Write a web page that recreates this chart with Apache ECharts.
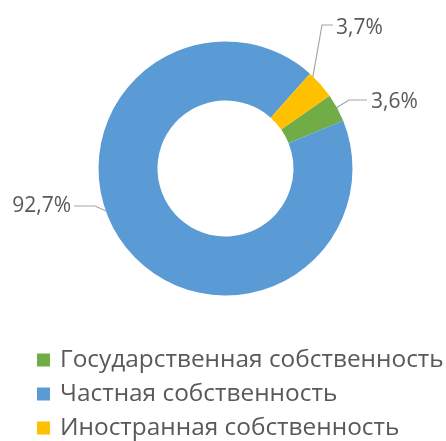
<!DOCTYPE html>
<html>
<head>
<meta charset="utf-8">
<script src="https://cdn.jsdelivr.net/npm/echarts@6/dist/echarts.min.js"></script>
<style>
html,body{margin:0;padding:0;background:#fff;}
#chart{width:446px;height:441px;}
</style>
</head>
<body>
<div id="chart"></div>
<script>
const categories = ['Государственная собственность', 'Частная собственность', 'Иностранная собственность'];
const values = [3.6, 92.7, 3.7];
const valueLabels = ['3,6%', '92,7%', '3,7%'];
const colors = ['#70AD47', '#5B9BD5', '#FFC000'];

const pieCenter = [225.5, 168.5];
// manual label placement (as in the original, labels were dragged)
const labelPlace = [
  {x: 371, y: 102, align: 'left', inset: 10, elbow: [-22, -2], end: [-4, -2]},
  {x: 71, y: 206, align: 'right', inset: 25, elbow: [24, 0], end: [3, 0]},
  {x: 336, y: 28, align: 'left', inset: 14, elbow: [-14, -3], end: [-3, -3]}
];

const chart = echarts.init(document.getElementById('chart'), null, {renderer: 'canvas'});
chart.setOption({
  animation: false,
  color: colors,
  legend: {
    orient: 'vertical',
    left: 37,
    top: 348,
    padding: 0,
    itemWidth: 13,
    itemHeight: 13,
    itemGap: 10,
    icon: 'rect',
    textStyle: {fontFamily: 'Open Sans', fontSize: 24.4, color: '#595959', padding: [0, 0, 0, 5]},
    data: categories
  },
  series: [{
    type: 'pie',
    center: pieCenter,
    radius: [68, 127],
    startAngle: 35,
    clockwise: true,
    avoidLabelOverlap: false,
    data: categories.map((c, i) => ({name: c, value: values[i], label: {formatter: valueLabels[i]}})),
    label: {
      show: true,
      position: 'outside',
      fontFamily: 'Open Sans',
      fontSize: 21,
      color: '#595959'
    },
    labelLine: {
      show: true,
      length: 12,
      length2: 14,
      lineStyle: {color: '#A6A6A6', width: 1.2}
    },
    labelLayout: function (params) {
      const p = labelPlace[params.dataIndex];
      const res = {x: p.x, y: p.y, align: p.align, verticalAlign: 'middle'};
      const pts = params.labelLinePoints;
      if (pts && pts[0]) {
        const e = pts[0];
        const dx = e[0] - pieCenter[0], dy = e[1] - pieCenter[1];
        const len = Math.hypot(dx, dy) || 1;
        const start = [e[0] - dx / len * p.inset, e[1] - dy / len * p.inset];
        res.labelLinePoints = [
          start,
          [p.x + p.elbow[0], p.y + p.elbow[1]],
          [p.x + p.end[0], p.y + p.end[1]]
        ];
      }
      return res;
    },
    itemStyle: {borderWidth: 0}
  }]
});
</script>
</body>
</html>
